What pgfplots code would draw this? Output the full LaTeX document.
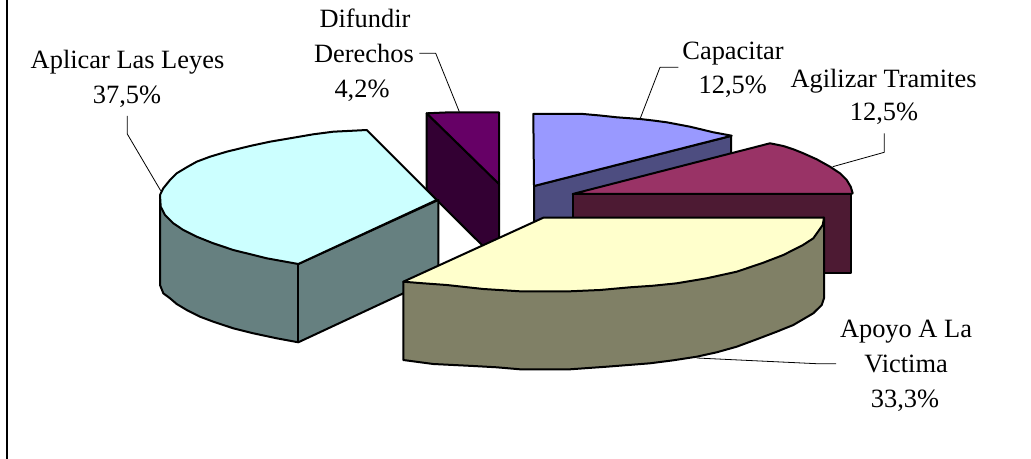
\documentclass[border=0pt]{standalone}
\usepackage{pgfplots}
\pgfplotsset{compat=1.18}
\usepackage{fontspec}
\setmainfont{Liberation Serif}
\definecolor{cy}{HTML}{CCFFFF}\definecolor{cyd}{HTML}{668080}
\definecolor{pu}{HTML}{660066}\definecolor{pud}{HTML}{330033}
\definecolor{bl}{HTML}{9999FF}\definecolor{bld}{HTML}{4D4D80}
\definecolor{ma}{HTML}{993366}\definecolor{mad}{HTML}{4D1A33}
\definecolor{ye}{HTML}{FFFFCC}\definecolor{yed}{HTML}{808066}
\tikzset{
  slice/.style={draw=black,line width=1pt,fill=#1},
  lead/.style={draw=black,line width=0.4pt},
  lab/.style={anchor=base,inner sep=0pt,font=\fontsize{13.2pt}{15pt}\selectfont}}
\begin{document}
\begin{tikzpicture}
\path[use as bounding box] (0,0) rectangle (515.5pt,229.5pt);
\begin{axis}[at={(0,0)},anchor=south west,scale only axis,width=515.5pt,height=229.5pt,
  xmin=0,xmax=1031,ymin=0,ymax=459,y dir=reverse,hide axis,clip=false,
  every axis plot/.append style={no markers,sharp plot,line join=round}]
% frame
\addplot[draw=black,line width=1pt] coordinates {(6.5,0)(6.5,459)};
% Difundir Derechos 4,2
\addplot[slice=pud] coordinates {(426.7,113.3)(499,184)(499,262)(426.7,190)} --cycle;
\addplot[slice=pu] coordinates {(426.7,113.3)(450,112.3)(499,112.3)(499,184)} --cycle;
% Capacitar 12,5
\addplot[slice=bld] coordinates {(534,186)(731,136)(731,214)(534,264)} --cycle;
\addplot[slice=bl] coordinates {(533.3,114)(583.3,114)(600,115.5)(616.7,117.3)(640,119)(653,120.5)(666.7,122.3)(690,126.7)(713.3,132.3)(731.7,135.7)(534,186)} --cycle;
% Agilizar Tramites 12,5
\addplot[slice=mad] coordinates {(572.7,194)(851,194)(851,272.7)(572.7,272.7)} --cycle;
\addplot[slice=ma] coordinates {(572.7,194)(770,143.3)(783.3,146)(793.3,149.3)(803.3,153.3)(816.7,159.3)(830,166.7)(840,173.3)(846.7,180)(850.7,186.7)(852.7,193.3)(851,194)} --cycle;
% Aplicar Las Leyes 37,5
\addplot[slice=cyd] coordinates {(160,200)(160,285)(163.3,293.3)(170,298.3)(176.7,304)(186.7,310)(200,316.7)(213.3,321.7)(233.3,328.3)(253.3,333.3)(276.7,338.3)(298.3,342.3)(438.3,277)(438.3,200)(298.3,264)} --cycle;
\addplot[draw=black,line width=1pt] coordinates {(298.3,264)(298.3,342.3)};
\addplot[slice=cy] coordinates {(298.3,264)(266.7,258.3)(233.3,250)(213.3,243.3)(196.7,236.7)(183.3,230)(173.3,223.3)(165,215)(160.7,206.7)(160,195)(163.3,188.3)(170,180)(176.7,173.3)(186.7,167.3)(196.7,161.7)(210,156.7)(226.7,151.7)(250,146)(270,141.7)(290,138.3)(313.3,134.3)(333.3,131.7)(353.3,130.7)(366.7,130)(436.7,200)} --cycle;
% Apoyo A La Victima 33,3
\addplot[slice=yed] coordinates {(403.3,281.7)(403.3,360)(433.3,364)(473.3,366)(496.7,367.3)(520,369.3)(570,369.3)(606.7,366.7)(650,363.3)(673.3,360.3)(696.7,356.7)(716.7,352.3)(736.7,346.7)(756.7,339.3)(776.7,331.7)(793.3,325)(813.3,313.3)(821.7,305)(824,298.3)(824,217.7)(600,280)} --cycle;
\addplot[slice=ye] coordinates {(403.3,281.7)(543.3,217.7)(824,217.7)(822.7,225)(813.3,238.3)(803,245)(783.3,255)(763.3,262.7)(736.7,271.7)(706.7,278.3)(676.7,283.3)(653.3,285.7)(630,287.3)(600,290)(570,291.3)(543.3,291.3)(520,291.3)(483.3,289)(446.7,285)(423.3,283.3)} --cycle;
% leader lines
\addplot[lead] coordinates {(127.3,116)(127.3,134)(160.7,190.7)};
\addplot[lead] coordinates {(419.3,53.3)(435.7,53.3)(459.3,111.7)};
\addplot[lead] coordinates {(678.3,67.3)(660,67.3)(640,119)};
\addplot[lead] coordinates {(884.3,133.3)(884.3,152.3)(832.7,166.7)};
\addplot[lead] coordinates {(836,363.7)(816.7,363.7)(696.7,358)};
% labels
\node[lab] at (axis cs:127.5,69) {Aplicar Las Leyes};
\node[lab] at (axis cs:127,104) {37,5\%};
\node[lab] at (axis cs:365,27.8) {Difundir};
\node[lab] at (axis cs:364,62.8) {Derechos};
\node[lab] at (axis cs:362,97.7) {4,2\%};
\node[lab] at (axis cs:733,59.3) {Capacitar};
\node[lab] at (axis cs:732.7,94) {12,5\%};
\node[lab] at (axis cs:883.5,87.3) {Agilizar Tramites};
\node[lab] at (axis cs:884,121) {12,5\%};
\node[lab] at (axis cs:906,337) {Apoyo A La};
\node[lab] at (axis cs:906,372.3) {Victima};
\node[lab] at (axis cs:905,407.7) {33,3\%};
\end{axis}
\end{tikzpicture}
\end{document}
